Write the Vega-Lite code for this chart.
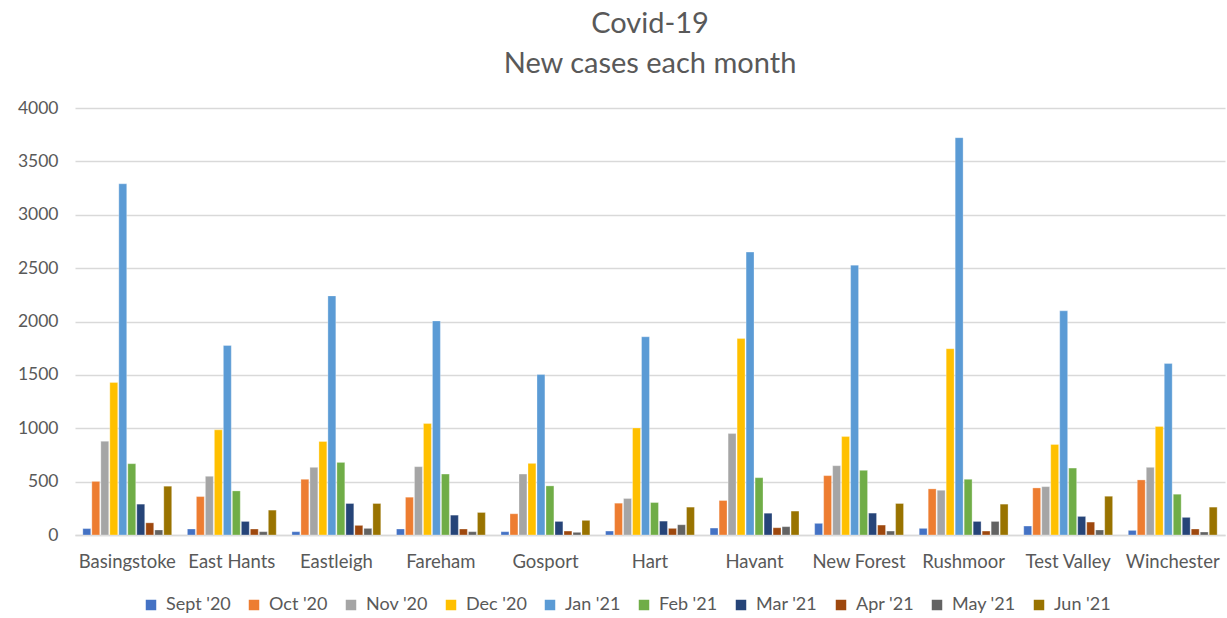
{
  "$schema": "https://vega.github.io/schema/vega-lite/v6.json",
  "width": 1150,
  "height": 427,
  "autosize": "none",
  "padding": {"left": 75, "top": 108, "right": 2, "bottom": 83},
  "background": "white",
  "title": {
    "text": ["Covid-19", "New cases each month"],
    "fontSize": 29,
    "fontWeight": "normal",
    "font": "Lato",
    "color": "#595959",
    "lineHeight": 40,
    "offset": 20,
    "anchor": "middle"
  },
  "config": {
    "view": {"stroke": null},
    "font": "Lato"
  },
  "data": {
    "values": [
      {"district": "Basingstoke", "month": "Sept '20", "cases": 60},
      {"district": "Basingstoke", "month": "Oct '20", "cases": 502},
      {"district": "Basingstoke", "month": "Nov '20", "cases": 878},
      {"district": "Basingstoke", "month": "Dec '20", "cases": 1428},
      {"district": "Basingstoke", "month": "Jan '21", "cases": 3290},
      {"district": "Basingstoke", "month": "Feb '21", "cases": 668},
      {"district": "Basingstoke", "month": "Mar '21", "cases": 289},
      {"district": "Basingstoke", "month": "Apr '21", "cases": 114},
      {"district": "Basingstoke", "month": "May '21", "cases": 47},
      {"district": "Basingstoke", "month": "Jun '21", "cases": 457},
      {"district": "East Hants", "month": "Sept '20", "cases": 56},
      {"district": "East Hants", "month": "Oct '20", "cases": 360},
      {"district": "East Hants", "month": "Nov '20", "cases": 550},
      {"district": "East Hants", "month": "Dec '20", "cases": 985},
      {"district": "East Hants", "month": "Jan '21", "cases": 1775},
      {"district": "East Hants", "month": "Feb '21", "cases": 413},
      {"district": "East Hants", "month": "Mar '21", "cases": 127},
      {"district": "East Hants", "month": "Apr '21", "cases": 56},
      {"district": "East Hants", "month": "May '21", "cases": 31},
      {"district": "East Hants", "month": "Jun '21", "cases": 233},
      {"district": "Eastleigh", "month": "Sept '20", "cases": 31},
      {"district": "Eastleigh", "month": "Oct '20", "cases": 522},
      {"district": "Eastleigh", "month": "Nov '20", "cases": 634},
      {"district": "Eastleigh", "month": "Dec '20", "cases": 876},
      {"district": "Eastleigh", "month": "Jan '21", "cases": 2240},
      {"district": "Eastleigh", "month": "Feb '21", "cases": 680},
      {"district": "Eastleigh", "month": "Mar '21", "cases": 295},
      {"district": "Eastleigh", "month": "Apr '21", "cases": 90},
      {"district": "Eastleigh", "month": "May '21", "cases": 62},
      {"district": "Eastleigh", "month": "Jun '21", "cases": 295},
      {"district": "Fareham", "month": "Sept '20", "cases": 56},
      {"district": "Fareham", "month": "Oct '20", "cases": 354},
      {"district": "Fareham", "month": "Nov '20", "cases": 640},
      {"district": "Fareham", "month": "Dec '20", "cases": 1044},
      {"district": "Fareham", "month": "Jan '21", "cases": 2005},
      {"district": "Fareham", "month": "Feb '21", "cases": 571},
      {"district": "Fareham", "month": "Mar '21", "cases": 186},
      {"district": "Fareham", "month": "Apr '21", "cases": 56},
      {"district": "Fareham", "month": "May '21", "cases": 31},
      {"district": "Fareham", "month": "Jun '21", "cases": 211},
      {"district": "Gosport", "month": "Sept '20", "cases": 31},
      {"district": "Gosport", "month": "Oct '20", "cases": 199},
      {"district": "Gosport", "month": "Nov '20", "cases": 571},
      {"district": "Gosport", "month": "Dec '20", "cases": 671},
      {"district": "Gosport", "month": "Jan '21", "cases": 1503},
      {"district": "Gosport", "month": "Feb '21", "cases": 460},
      {"district": "Gosport", "month": "Mar '21", "cases": 127},
      {"district": "Gosport", "month": "Apr '21", "cases": 37},
      {"district": "Gosport", "month": "May '21", "cases": 25},
      {"district": "Gosport", "month": "Jun '21", "cases": 137},
      {"district": "Hart", "month": "Sept '20", "cases": 37},
      {"district": "Hart", "month": "Oct '20", "cases": 298},
      {"district": "Hart", "month": "Nov '20", "cases": 342},
      {"district": "Hart", "month": "Dec '20", "cases": 1003},
      {"district": "Hart", "month": "Jan '21", "cases": 1857},
      {"district": "Hart", "month": "Feb '21", "cases": 304},
      {"district": "Hart", "month": "Mar '21", "cases": 130},
      {"district": "Hart", "month": "Apr '21", "cases": 62},
      {"district": "Hart", "month": "May '21", "cases": 96},
      {"district": "Hart", "month": "Jun '21", "cases": 261},
      {"district": "Havant", "month": "Sept '20", "cases": 65},
      {"district": "Havant", "month": "Oct '20", "cases": 323},
      {"district": "Havant", "month": "Nov '20", "cases": 950},
      {"district": "Havant", "month": "Dec '20", "cases": 1840},
      {"district": "Havant", "month": "Jan '21", "cases": 2650},
      {"district": "Havant", "month": "Feb '21", "cases": 537},
      {"district": "Havant", "month": "Mar '21", "cases": 204},
      {"district": "Havant", "month": "Apr '21", "cases": 68},
      {"district": "Havant", "month": "May '21", "cases": 78},
      {"district": "Havant", "month": "Jun '21", "cases": 224},
      {"district": "New Forest", "month": "Sept '20", "cases": 109},
      {"district": "New Forest", "month": "Oct '20", "cases": 556},
      {"district": "New Forest", "month": "Nov '20", "cases": 649},
      {"district": "New Forest", "month": "Dec '20", "cases": 922},
      {"district": "New Forest", "month": "Jan '21", "cases": 2528},
      {"district": "New Forest", "month": "Feb '21", "cases": 606},
      {"district": "New Forest", "month": "Mar '21", "cases": 205},
      {"district": "New Forest", "month": "Apr '21", "cases": 93},
      {"district": "New Forest", "month": "May '21", "cases": 37},
      {"district": "New Forest", "month": "Jun '21", "cases": 295},
      {"district": "Rushmoor", "month": "Sept '20", "cases": 62},
      {"district": "Rushmoor", "month": "Oct '20", "cases": 432},
      {"district": "Rushmoor", "month": "Nov '20", "cases": 419},
      {"district": "Rushmoor", "month": "Dec '20", "cases": 1745},
      {"district": "Rushmoor", "month": "Jan '21", "cases": 3722},
      {"district": "Rushmoor", "month": "Feb '21", "cases": 522},
      {"district": "Rushmoor", "month": "Mar '21", "cases": 127},
      {"district": "Rushmoor", "month": "Apr '21", "cases": 37},
      {"district": "Rushmoor", "month": "May '21", "cases": 127},
      {"district": "Rushmoor", "month": "Jun '21", "cases": 289},
      {"district": "Test Valley", "month": "Sept '20", "cases": 84},
      {"district": "Test Valley", "month": "Oct '20", "cases": 441},
      {"district": "Test Valley", "month": "Nov '20", "cases": 453},
      {"district": "Test Valley", "month": "Dec '20", "cases": 848},
      {"district": "Test Valley", "month": "Jan '21", "cases": 2100},
      {"district": "Test Valley", "month": "Feb '21", "cases": 627},
      {"district": "Test Valley", "month": "Mar '21", "cases": 174},
      {"district": "Test Valley", "month": "Apr '21", "cases": 121},
      {"district": "Test Valley", "month": "May '21", "cases": 47},
      {"district": "Test Valley", "month": "Jun '21", "cases": 363},
      {"district": "Winchester", "month": "Sept '20", "cases": 43},
      {"district": "Winchester", "month": "Oct '20", "cases": 516},
      {"district": "Winchester", "month": "Nov '20", "cases": 634},
      {"district": "Winchester", "month": "Dec '20", "cases": 1016},
      {"district": "Winchester", "month": "Jan '21", "cases": 1606},
      {"district": "Winchester", "month": "Feb '21", "cases": 382},
      {"district": "Winchester", "month": "Mar '21", "cases": 165},
      {"district": "Winchester", "month": "Apr '21", "cases": 56},
      {"district": "Winchester", "month": "May '21", "cases": 28},
      {"district": "Winchester", "month": "Jun '21", "cases": 261}
    ]
  },
  "mark": {"type": "bar", "stroke": "white", "strokeOpacity": 0.5, "strokeWidth": 0.6},
  "encoding": {
    "x": {
      "field": "district",
      "type": "nominal",
      "sort": null,
      "scale": {"paddingInner": 0.15, "paddingOuter": 0.075},
      "axis": {
        "title": null,
        "labelAngle": 0,
        "labelFontSize": 18.5,
        "labelColor": "#595959",
        "labelPadding": 17,
        "ticks": false,
        "domainColor": "#d9d9d9",
        "domainWidth": 1.5,
        "grid": false
      }
    },
    "xOffset": {
      "field": "month",
      "type": "nominal",
      "sort": ["Sept '20", "Oct '20", "Nov '20", "Dec '20", "Jan '21", "Feb '21", "Mar '21", "Apr '21", "May '21", "Jun '21"],
      "scale": {"paddingInner": 0.12}
    },
    "y": {
      "field": "cases",
      "type": "quantitative",
      "scale": {"domain": [0, 4000], "nice": false},
      "axis": {
        "title": null,
        "values": [0, 500, 1000, 1500, 2000, 2500, 3000, 3500, 4000],
        "format": "d",
        "labelFontSize": 17.5,
        "labelColor": "#595959",
        "labelPadding": 17,
        "ticks": false,
        "domain": false,
        "gridColor": "#d9d9d9",
        "gridWidth": 1.5
      }
    },
    "color": {
      "field": "month",
      "type": "nominal",
      "sort": ["Sept '20", "Oct '20", "Nov '20", "Dec '20", "Jan '21", "Feb '21", "Mar '21", "Apr '21", "May '21", "Jun '21"],
      "scale": {
        "domain": ["Sept '20", "Oct '20", "Nov '20", "Dec '20", "Jan '21", "Feb '21", "Mar '21", "Apr '21", "May '21", "Jun '21"],
        "range": ["#4472C4", "#ED7D31", "#A5A5A5", "#FFC000", "#5B9BD5", "#70AD47", "#264478", "#9E480E", "#636363", "#997300"]
      },
      "legend": {
        "title": null,
        "orient": "none",
        "legendX": 67,
        "legendY": 488,
        "direction": "horizontal",
        "columns": 10,
        "symbolType": "square",
        "symbolSize": 110,
        "symbolStrokeWidth": 0,
        "labelFontSize": 18,
        "labelColor": "#595959",
        "labelOffset": 6,
        "columnPadding": 14
      }
    }
  }
}
